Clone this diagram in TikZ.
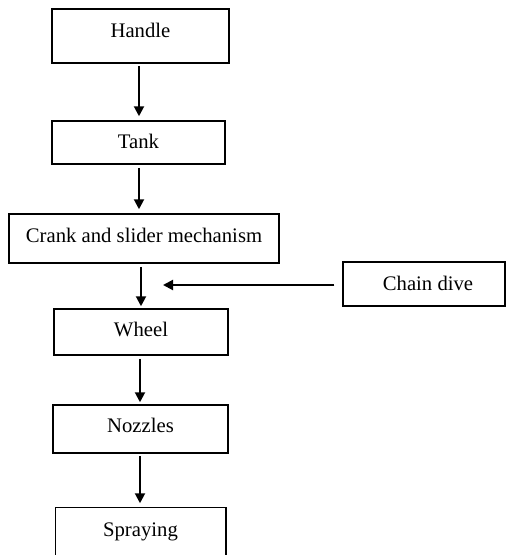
\documentclass[tikz,border=0pt]{standalone}
\usepackage{fontspec}
\setmainfont{Liberation Serif}
\usetikzlibrary{arrows.meta}
\tikzset{
  box/.style={draw, line width=1.5pt, inner sep=0pt, font=\fontsize{20.7}{24}\selectfont, text height=14pt, text depth=5pt},
  flow/.style={line width=2pt, -{Triangle[length=10pt,width=10pt]}},
}
\begin{document}
\begin{tikzpicture}[x=1pt,y=-1pt]
\useasboundingbox (0,0) rectangle (506,555);
\node[box, minimum width=177pt, minimum height=54pt, text depth=12pt] (handle) at (140.5,36) {Handle};
\node[box, minimum width=173pt, minimum height=43pt, text depth=2pt] (tank) at (138.5,142.5) {Tank};
\node[box, minimum width=270pt, minimum height=49pt, text depth=7pt] (crank) at (144,238.5) {Crank and slider mechanism};
\node[box, minimum width=162pt, minimum height=44pt, text depth=2pt] (chain) at (424,284) {\hspace*{8pt}Chain dive};
\node[box, minimum width=174pt, minimum height=46pt, text depth=5pt] (wheel) at (141,332) {Wheel};
\node[box, minimum width=175pt, minimum height=48pt, text depth=7pt] (nozzles) at (140.5,429) {Nozzles};
\node[box, draw=none, minimum width=169pt, minimum height=47pt, text depth=5pt] (spraying) at (140.5,531.5) {Spraying};
\draw[line width=1.5pt] (spraying.south west) -- (spraying.north west) -- (spraying.north east) -- (spraying.south east);
\coordinate (chainend) at (163,285);
\draw[flow, shorten <=2pt, shorten >=4pt] ([xshift=-1.5pt]handle.south) -- ([xshift=-1.5pt]handle.south |- tank.north);
\draw[flow, shorten <=3pt, shorten >=4pt] ([xshift=0.5pt]tank.south) -- ([xshift=0.5pt]tank.south |- crank.north);
\draw[flow, shorten <=3pt, shorten >=2pt] ([xshift=-3pt]crank.south) -- ([xshift=-3pt]crank.south |- wheel.north);
\draw[flow, shorten <=3pt, shorten >=2pt] ([xshift=-1pt]wheel.south) -- ([xshift=-1pt]wheel.south |- nozzles.north);
\draw[flow, shorten <=2pt, shorten >=4pt] ([xshift=-0.5pt]nozzles.south) -- ([xshift=-0.5pt]nozzles.south |- spraying.north);
\draw[flow, shorten <=8pt] (chain.west |- chainend) -- (chainend);
\end{tikzpicture}
\end{document}
